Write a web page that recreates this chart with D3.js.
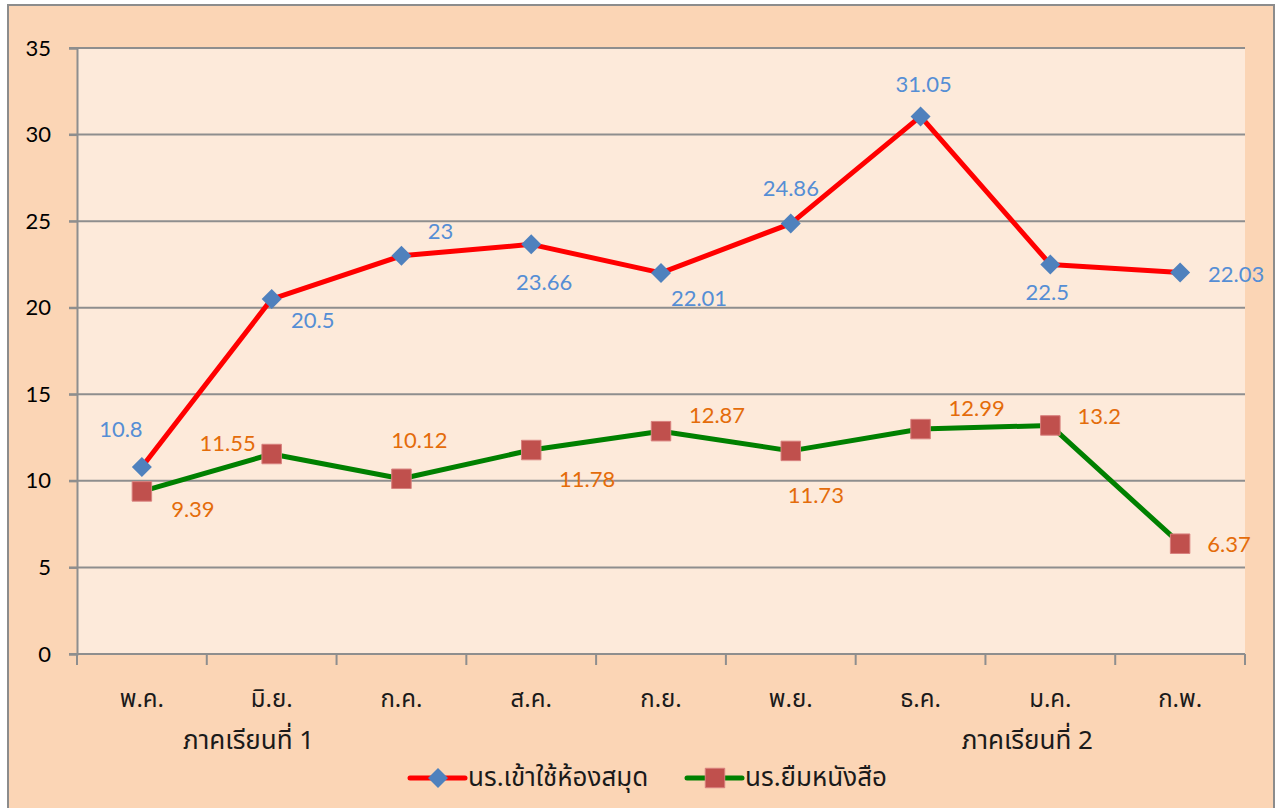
<!DOCTYPE html>
<html lang="th">
<head>
<meta charset="UTF-8">
<title>การใช้ห้องสมุด</title>
<script src="https://d3js.org/d3.v7.min.js"></script>
<style>
  body { margin: 0; background: #fff; }
  svg { display: block; }
  .num { font-family: Lato, "Open Sans", sans-serif; }
  .thai { font-family: "Noto Sans Thai", "Noto Sans", "DejaVu Sans", sans-serif; fill: #1a1a1a; }
</style>
</head>
<body>
<script>
// ข้อมูล
var months = ["พ.ค.", "มิ.ย.", "ก.ค.", "ส.ค.", "ก.ย.", "พ.ย.", "ธ.ค.", "ม.ค.", "ก.พ."];
var semesters = ["", "ภาคเรียนที่ 1", "", "", "", "", "", "ภาคเรียนที่ 2", ""];
var visits = [10.8, 20.5, 23, 23.66, 22.01, 24.86, 31.05, 22.5, 22.03];
var borrows = [9.39, 11.55, 10.12, 11.78, 12.87, 11.73, 12.99, 13.2, 6.37];
var seriesNames = ["นร.เข้าใช้ห้องสมุด", "นร.ยืมหนังสือ"];
var yTicks = [0, 5, 10, 15, 20, 25, 30, 35];

// ตำแหน่งป้ายค่า (dx, dy จากจุด)
var visitLabelOff = [[-21, -39], [41, 20], [39, -25], [13, 37], [38, 25], [0, -36], [3, -33], [-3, 27], [56, 1]];
var borrowLabelOff = [[51, 17], [-44, -12], [18, -39], [56, 28], [56, -17], [25, 44], [56, -22], [49, -10], [49, 0]];

var W = 1279, H = 808;
var plot = { left: 77, top: 48, right: 1245, bottom: 654 };

var svg = d3.select("body").append("svg")
    .attr("width", W)
    .attr("height", H);

// กรอบนอก
svg.append("rect")
    .attr("x", 8).attr("y", 5)
    .attr("width", 1266).attr("height", 820)
    .attr("fill", "#FBD5B5")
    .attr("stroke", "#8c8c8c")
    .attr("stroke-width", 2);

// พื้นที่กราฟ
svg.append("rect")
    .attr("x", plot.left).attr("y", plot.top)
    .attr("width", plot.right - plot.left).attr("height", plot.bottom - plot.top)
    .attr("fill", "#FDEADA");

var x = d3.scaleBand()
    .domain(months)
    .range([plot.left, plot.right])
    .padding(0);

var y = d3.scaleLinear()
    .domain([0, 35])
    .range([plot.bottom, plot.top]);

// เส้นกริด
svg.append("g")
    .selectAll("line")
    .data(yTicks.filter(function (d) { return d > 0; }))
    .enter().append("line")
    .attr("x1", plot.left - 8).attr("x2", plot.right)
    .attr("y1", function (d) { return y(d); })
    .attr("y2", function (d) { return y(d); })
    .attr("stroke", "#8e8e8e")
    .attr("stroke-width", 2);

// แกน Y
var yAxis = svg.append("g")
    .attr("transform", "translate(" + plot.left + ",0)")
    .call(d3.axisLeft(y).tickValues(yTicks).tickSize(8).tickPadding(18).tickFormat(d3.format("d")));
yAxis.select(".domain").attr("stroke", "#8e8e8e").attr("stroke-width", 2);
yAxis.selectAll(".tick line").attr("stroke", "#8e8e8e").attr("stroke-width", 2);
yAxis.selectAll("text")
    .attr("class", "num")
    .style("font-size", "22px")
    .attr("fill", "#000");

// แกน X
var xAxis = svg.append("g")
    .attr("transform", "translate(0," + plot.bottom + ")")
    .call(d3.axisBottom(x).tickSize(0).tickPadding(36));
xAxis.select(".domain").remove();
xAxis.selectAll("text")
    .attr("class", "thai")
    .style("font-size", "24px");

svg.append("line")
    .attr("x1", plot.left - 8).attr("x2", plot.right)
    .attr("y1", plot.bottom).attr("y2", plot.bottom)
    .attr("stroke", "#8e8e8e").attr("stroke-width", 2);

var bounds = months.map(function (m) { return x(m); }).concat([x(months[months.length - 1]) + x.bandwidth()]);
svg.append("g")
    .selectAll("line")
    .data(bounds)
    .enter().append("line")
    .attr("x1", function (d) { return d; })
    .attr("x2", function (d) { return d; })
    .attr("y1", plot.bottom).attr("y2", plot.bottom + 11)
    .attr("stroke", "#8e8e8e").attr("stroke-width", 2);

// ภาคเรียน
svg.append("g")
    .selectAll("text")
    .data(semesters)
    .enter().append("text")
    .attr("class", "thai")
    .attr("x", function (d, i) { return x(months[i]) + x.bandwidth() / 2 - 23; })
    .attr("y", 749)
    .attr("text-anchor", "middle")
    .style("font-size", "26px")
    .text(function (d) { return d; });

var cx = function (d, i) { return x(months[i]) + x.bandwidth() / 2; };
var line = d3.line()
    .x(cx)
    .y(function (d) { return y(d); });

// เส้น
svg.append("path").datum(visits)
    .attr("d", line)
    .attr("fill", "none").attr("stroke", "#FF0000").attr("stroke-width", 5)
    .attr("stroke-linejoin", "round").attr("stroke-linecap", "round");
svg.append("path").datum(borrows)
    .attr("d", line)
    .attr("fill", "none").attr("stroke", "#008000").attr("stroke-width", 5)
    .attr("stroke-linejoin", "round").attr("stroke-linecap", "round");

var diamond = d3.symbol().type(d3.symbolSquare).size(200);
var square = d3.symbol().type(d3.symbolSquare).size(380);

svg.append("g").selectAll("path")
    .data(visits)
    .enter().append("path")
    .attr("d", diamond)
    .attr("transform", function (d, i) { return "translate(" + cx(d, i) + "," + y(d) + ") rotate(45)"; })
    .attr("fill", "#4F81BD");

svg.append("g").selectAll("path")
    .data(borrows)
    .enter().append("path")
    .attr("d", square)
    .attr("transform", function (d, i) { return "translate(" + cx(d, i) + "," + y(d) + ")"; })
    .attr("fill", "#C0504D")
    .attr("stroke", "#D8807E").attr("stroke-width", 1);

// ป้ายค่า
svg.append("g").selectAll("text")
    .data(visits)
    .enter().append("text")
    .attr("class", "num")
    .attr("x", function (d, i) { return cx(d, i) + visitLabelOff[i][0]; })
    .attr("y", function (d, i) { return y(d) + visitLabelOff[i][1]; })
    .attr("text-anchor", "middle")
    .attr("dominant-baseline", "central")
    .attr("fill", "#558ED5")
    .style("font-size", "22px")
    .text(function (d) { return d; });

svg.append("g").selectAll("text")
    .data(borrows)
    .enter().append("text")
    .attr("class", "num")
    .attr("x", function (d, i) { return cx(d, i) + borrowLabelOff[i][0]; })
    .attr("y", function (d, i) { return y(d) + borrowLabelOff[i][1]; })
    .attr("text-anchor", "middle")
    .attr("dominant-baseline", "central")
    .attr("fill", "#E46C0A")
    .style("font-size", "22px")
    .text(function (d) { return d; });

// คำอธิบาย
var legend = svg.append("g").attr("transform", "translate(0,778)");
var legendX = [410, 687];
var legendColors = ["#FF0000", "#008000"];
seriesNames.forEach(function (name, i) {
    var g = legend.append("g").attr("transform", "translate(" + legendX[i] + ",0)");
    g.append("line")
        .attr("x1", 0).attr("x2", 55)
        .attr("stroke", legendColors[i]).attr("stroke-width", 5)
        .attr("stroke-linecap", "round");
    if (i === 0) {
        g.append("path").attr("d", diamond)
            .attr("transform", "translate(28,0) rotate(45)")
            .attr("fill", "#4F81BD");
    } else {
        g.append("path").attr("d", square)
            .attr("transform", "translate(28,0)")
            .attr("fill", "#C0504D")
            .attr("stroke", "#D8807E").attr("stroke-width", 1);
    }
    g.append("text")
        .attr("class", "thai")
        .attr("x", 58)
        .attr("dominant-baseline", "central")
        .style("font-size", "26px")
        .text(name);
});
</script>
</body>
</html>
